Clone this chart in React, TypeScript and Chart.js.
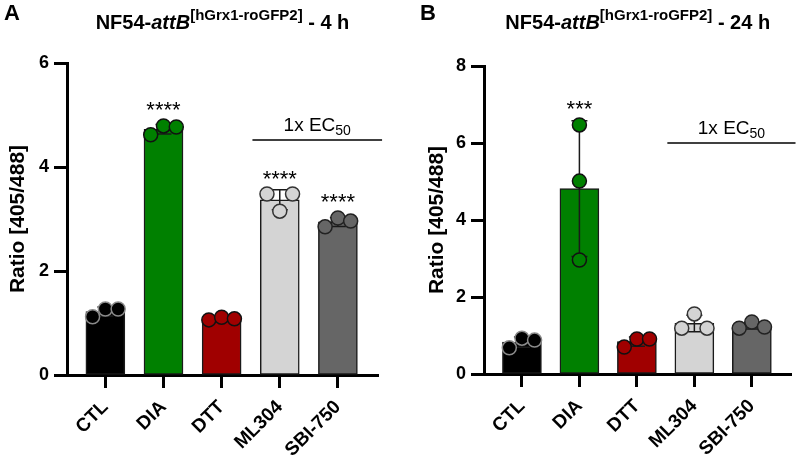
import React, { useEffect, useRef } from "react";
import { Chart, registerables } from "chart.js";

Chart.register(...registerables);

const FONT = "'Liberation Sans', Arial, Helvetica, sans-serif";

// ---------- data ----------
const categories = ["CTL", "DIA", "DTT", "ML304", "SBI-750"];

const replicatesA = [
  [1.12, 1.27, 1.27],
  [4.62, 4.79, 4.77],
  [1.06, 1.11, 1.08],
  [3.48, 3.15, 3.48],
  [2.85, 3.02, 2.96],
];
const replicatesB = [
  [0.68, 0.93, 0.88],
  [6.47, 5.01, 2.96],
  [0.7, 0.91, 0.91],
  [1.19, 1.56, 1.19],
  [1.19, 1.35, 1.22],
];
const sigA = ["", "****", "", "****", "****"];
const sigB = ["", "***", "", "", ""];
const yTicksA = [0, 2, 4, 6];
const yTicksB = [0, 2, 4, 6, 8];
const ecGroup = [3, 4];
const ecText = "1x EC";
const ecSub = "50";
const strain = "NF54-";
const strainItalic = "attB";
const reporter = "[hGrx1-roGFP2]";
const timeA = " - 4 h";
const timeB = " - 24 h";
const yTitle = "Ratio [405/488]";

// ---------- styles ----------
const FILL = ["#000000", "#008000", "#a00000", "#d4d4d4", "#666666"];
const PT_BORDER = ["#8a8a8a", "#111111", "#111111", "#333333", "#222222"];
const RADIUS = 7;
const JITTER = 0.22;

const mean = (a: number[]) => a.reduce((s, v) => s + v, 0) / a.length;
const sd = (a: number[]) => {
  const m = mean(a);
  return Math.sqrt(a.reduce((s, v) => s + (v - m) * (v - m), 0) / (a.length - 1));
};

type Spec = {
  letter: string;
  letterX: number;
  time: string;
  reps: number[][];
  sig: string[];
  yTicks: number[];
  padLeft: number;
  padRight: number;
  padTop: number;
  yW: number;
  xH: number;
};

function Panel({ spec }: { spec: Spec }) {
  const ref = useRef<HTMLCanvasElement>(null);
  useEffect(() => {
    const reps = spec.reps;
    const means = reps.map(mean);
    const sds = reps.map(sd);
    const yMax = spec.yTicks[spec.yTicks.length - 1];
    const pts: { x: number; y: number }[] = [];
    const ptFill: string[] = [];
    const ptBorder: string[] = [];
    reps.forEach((g, i) => {
      const spread = (Math.max(...g) - Math.min(...g)) / yMax < 0.15;
      g.forEach((v, j) => {
        pts.push({ x: i + (spread ? (j - (g.length - 1) / 2) * JITTER : 0), y: v });
        ptFill.push(FILL[i]);
        ptBorder.push(PT_BORDER[i]);
      });
    });

    const decor = {
      id: "decor",
      afterDatasetDraw(chart: any, args: any) {
        if (args.index !== 0) return;
        const { ctx, scales } = chart;
        const xs = scales.x, ys = scales.y;
        ctx.save();
        ctx.strokeStyle = "#1a1a1a";
        ctx.lineWidth = 1.5;
        means.forEach((m, i) => {
          const cx = xs.getPixelForValue(i);
          const yt = ys.getPixelForValue(m + sds[i]);
          const yb = ys.getPixelForValue(m - sds[i]);
          ctx.beginPath();
          ctx.moveTo(cx, yt);
          ctx.lineTo(cx, yb);
          ctx.moveTo(cx - 8, yt);
          ctx.lineTo(cx + 8, yt);
          ctx.moveTo(cx - 8, yb);
          ctx.lineTo(cx + 8, yb);
          ctx.stroke();
        });
        ctx.restore();
      },
      afterDraw(chart: any) {
        const { ctx, scales, chartArea } = chart;
        const xs = scales.x, ys = scales.y;
        ctx.save();
        ctx.fillStyle = "#000";
        ctx.strokeStyle = "#000";
        // significance stars
        ctx.font = `22px ${FONT}`;
        ctx.textAlign = "center";
        ctx.textBaseline = "alphabetic";
        spec.sig.forEach((s, i) => {
          if (!s) return;
          const top = Math.min(
            ys.getPixelForValue(means[i] + sds[i]),
            ys.getPixelForValue(Math.max(...reps[i])) - RADIUS
          );
          ctx.fillText(s, xs.getPixelForValue(i), top - 1.5);
        });
        // EC50 bracket
        const lx0 = xs.getPixelForValue(ecGroup[0] - 0.47);
        const lx1 = xs.getPixelForValue(ecGroup[ecGroup.length - 1] + 0.76);
        const ly = chartArea.top + 77;
        ctx.lineWidth = 1.5;
        ctx.beginPath();
        ctx.moveTo(lx0, ly);
        ctx.lineTo(lx1, ly);
        ctx.stroke();
        ctx.textAlign = "left";
        ctx.font = `19px ${FONT}`;
        const w1 = ctx.measureText(ecText).width;
        ctx.font = `14px ${FONT}`;
        const w2 = ctx.measureText(ecSub).width;
        const tx = (lx0 + lx1) / 2 - (w1 + w2) / 2;
        ctx.font = `19px ${FONT}`;
        ctx.fillText(ecText, tx, ly - 9);
        ctx.font = `14px ${FONT}`;
        ctx.fillText(ecSub, tx + w1, ly - 5);
        // title
        const segs = [
          { t: strain, f: `bold 20px ${FONT}`, dy: 0 },
          { t: strainItalic, f: `italic bold 20px ${FONT}`, dy: 0 },
          { t: reporter, f: `bold 15px ${FONT}`, dy: -9 },
          { t: spec.time, f: `bold 20px ${FONT}`, dy: 0 },
        ];
        let total = 0;
        const widths = segs.map((s) => {
          ctx.font = s.f;
          const w = ctx.measureText(s.t).width;
          total += w;
          return w;
        });
        let x = (chartArea.left + chartArea.right) / 2 - total / 2;
        segs.forEach((s, i) => {
          ctx.font = s.f;
          ctx.fillText(s.t, x, 29 + s.dy);
          x += widths[i];
        });
        // panel letter
        ctx.font = `bold 22px ${FONT}`;
        ctx.fillText(spec.letter, spec.letterX, 20);
        ctx.restore();
      },
    };

    const tickFont = { family: FONT, size: 18, weight: "bold" as const };
    const chart = new Chart(ref.current as HTMLCanvasElement, {
      type: "bar",
      data: {
        datasets: [
          {
            type: "bar",
            data: means.map((m, i) => ({ x: i, y: m })) as any,
            backgroundColor: FILL,
            borderColor: "#1a1a1a",
            borderWidth: 1.5,
            borderSkipped: false,
            barThickness: 39,
            order: 2,
          },
          {
            type: "scatter",
            data: pts as any,
            pointRadius: RADIUS,
            pointBackgroundColor: ptFill,
            pointBorderColor: ptBorder,
            pointBorderWidth: 1.5,
            order: 1,
          } as any,
        ],
      },
      options: {
        responsive: false,
        animation: false,
        layout: { padding: { left: spec.padLeft, right: spec.padRight, top: spec.padTop, bottom: 0 } },
        plugins: { legend: { display: false }, tooltip: { enabled: false }, title: { display: false } },
        scales: {
          x: {
            type: "linear",
            offset: false,
            min: -0.66,
            max: 4.69,
            afterBuildTicks: (s: any) => {
              s.ticks = categories.map((_, i) => ({ value: i }));
            },
            afterFit: (s: any) => {
              s.height = spec.xH;
            },
            ticks: {
              autoSkip: false,
              minRotation: 45,
              maxRotation: 45,
              padding: 8,
              color: "#000",
              font: { family: FONT, size: 19, weight: "bold" },
              callback: (v: any) => categories[v] ?? "",
            },
            grid: { offset: false, drawOnChartArea: false, drawTicks: true, tickLength: 13, tickWidth: 3, tickColor: "#000" },
            border: { display: true, color: "#000", width: 3 },
          },
          y: {
            min: 0,
            max: yMax,
            afterBuildTicks: (s: any) => {
              s.ticks = spec.yTicks.map((v) => ({ value: v }));
            },
            afterFit: (s: any) => {
              s.width = spec.yW;
            },
            ticks: { padding: 5, color: "#000", font: tickFont },
            grid: { drawOnChartArea: false, drawTicks: true, tickLength: 13, tickWidth: 3, tickColor: "#000" },
            border: { display: true, color: "#000", width: 3 },
            title: {
              display: true,
              text: yTitle,
              color: "#000",
              font: { family: FONT, size: 21, weight: "bold" },
              padding: { top: 5.5, bottom: 0 },
            },
          },
        } as any,
      },
      plugins: [decor],
    });
    return () => chart.destroy();
  }, [spec]);
  return <canvas ref={ref} width={400} height={463} style={{ display: "block", width: 400, height: 463 }} />;
}

const specA: Spec = {
  letter: "A",
  letterX: 4,
  time: timeA,
  reps: replicatesA,
  sig: sigA,
  yTicks: yTicksA,
  padLeft: 0,
  padRight: 22,
  padTop: 63,
  yW: 67,
  xH: 88,
};
const specB: Spec = {
  letter: "B",
  letterX: 20,
  time: timeB,
  reps: replicatesB,
  sig: sigB,
  yTicks: yTicksB,
  padLeft: 19,
  padRight: 3,
  padTop: 66,
  yW: 65,
  xH: 89,
};

export default function App() {
  return (
    <div style={{ position: "fixed", left: 0, top: 0, width: 800, height: 463, background: "#fff", display: "flex" }}>
      <Panel spec={specA} />
      <Panel spec={specB} />
    </div>
  );
}
